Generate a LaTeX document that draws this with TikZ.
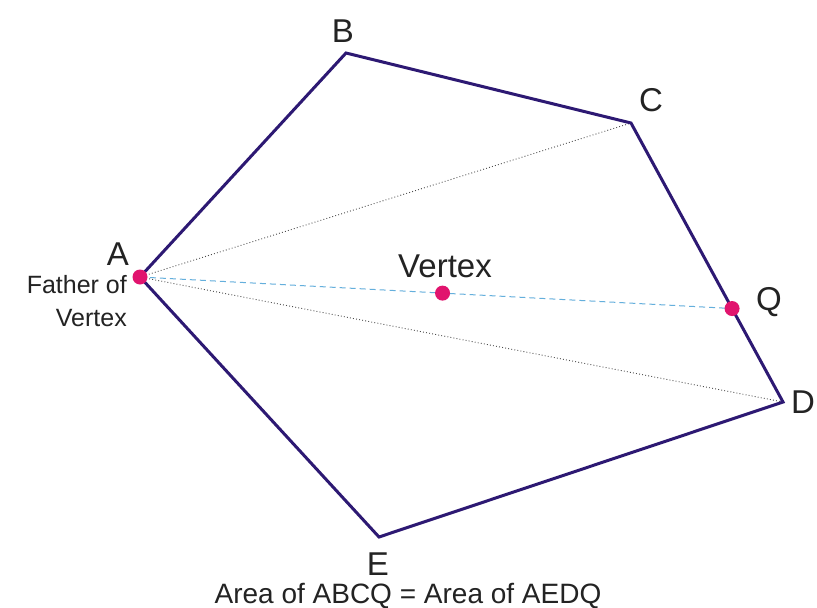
\documentclass[tikz,border=0pt]{standalone}
\usepackage{fontspec}
\setmainfont{Liberation Sans}
\usetikzlibrary{calc}
\definecolor{edge}{RGB}{45,25,115}
\definecolor{dotc}{RGB}{225,20,110}
\definecolor{dashc}{RGB}{100,175,220}
\definecolor{txt}{RGB}{35,35,35}
\begin{document}
\begin{tikzpicture}[x=1pt,y=-1pt,
  side/.style={draw=edge,line width=3pt,line join=miter},
  diag/.style={draw=black!70,line width=0.9pt,dash pattern=on 0.9pt off 2.2pt},
  mid/.style={draw=dashc,line width=1pt,dash pattern=on 6pt off 4pt},
  pt/.style={circle,fill=dotc,inner sep=0pt,minimum size=15pt},
  vlab/.style={text=txt,inner sep=0pt,font=\fontsize{33}{36}\selectfont},
  small/.style={text=txt,inner sep=0pt,font=\fontsize{25}{33}\selectfont}]
\useasboundingbox (0,0) rectangle (817,608);
\fill[white] (0,0) rectangle (817,608);
\coordinate (A) at (140,277);
\coordinate (B) at (346,53);
\coordinate (C) at (631,123);
\coordinate (D) at (783,402);
\coordinate (E) at (379,537);
\coordinate (Q) at ($(C)!0.665!(D)$);
\coordinate (V) at ($(A)!0.511!(Q)$);
\draw[diag] (A) -- (C);
\draw[diag] (A) -- (D);
\draw[mid] (A) -- (Q);
\draw[side] (A) -- (B) -- (C) -- (D) -- (E) -- cycle;
\node[pt] (pA) at (A) {};
\node[pt] (pV) at (V) {};
\node[pt] (pQ) at (Q) {};
\node[vlab] (lA) at (118,254) {A};
\node[vlab] (lB) at (343,31) {B};
\node[vlab] (lC) at (651,100) {C};
\node[vlab] (lQ) at (769,302) {Q};
\node[vlab,anchor=west] (lD) at (791,402) {D};
\node[vlab] (lE) at (378,564) {E};
\node[vlab] (lV) at (445,266) {Vertex};
\node[small,align=right,anchor=east] (lF) at (127,301) {Father of\\Vertex};
\node[text=txt,inner sep=0pt,anchor=base,font=\fontsize{28}{30}\selectfont] (eq) at (408,603) {Area of ABCQ = Area of AEDQ};
\end{tikzpicture}
\end{document}
